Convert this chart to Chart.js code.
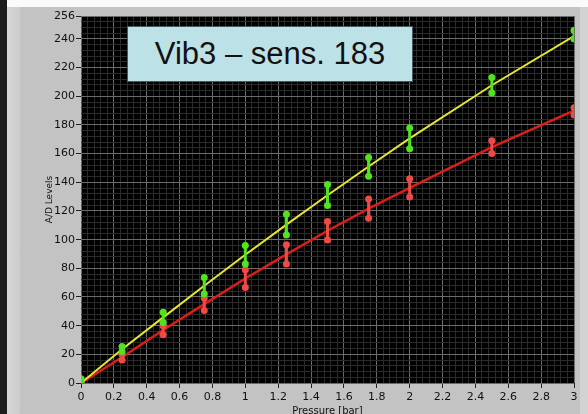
<!DOCTYPE html>
<html>
<head>
<meta charset="utf-8">
<script src="https://cdn.jsdelivr.net/npm/chart.js@4.4.1/dist/chart.umd.min.js"></script>
<style>
  html, body { margin: 0; padding: 0; }
  body { width: 588px; height: 414px; overflow: hidden; position: relative; background: #c3c3c3; }
  .strip { position: absolute; }
  #darkLeft { left: 0; top: 0; width: 7px; height: 414px; background: #1c1c1c; }
  #lightLeft { left: 7px; top: 0; width: 13px; height: 414px; background: linear-gradient(to right, #d6d6d6, #cdcdcd); }
  #topEdge { left: 7px; top: 0; width: 581px; height: 7px; background: #fafafa; }
  #rightEdge { left: 580px; top: 7px; width: 8px; height: 407px; background: #d2d2d2; }
  #plot { position: absolute; left: 0; top: 0; }
  #label {
    position: absolute; left: 127px; top: 26px; width: 284px; height: 54px;
    border: 1px solid #4a5a5c; background: #bce2e7;
    font: 31px "Liberation Sans", Arial, sans-serif; color: #111;
    display: flex; align-items: center; justify-content: center;
  }
</style>
</head>
<body>
<div class="strip" id="darkLeft"></div>
<div class="strip" id="lightLeft"></div>
<div class="strip" id="topEdge"></div>
<div class="strip" id="rightEdge"></div>
<canvas id="plot" width="588" height="420"></canvas>
<div id="label">Vib3 – sens. 183</div>
<script>
// readings per pressure step
const pressure = [0, 0.25, 0.5, 0.75, 1, 1.25, 1.5, 1.75, 2, 2.5, 3];
const greenLow = [0, 21.9, 42.2, 62.0, 83.0, 103.2, 123.8, 144.3, 163.4, 202.3, 240];
const greenHigh = [3, 25.4, 49.4, 73.6, 96.0, 117.7, 138.5, 157.3, 177.8, 213.1, 246];
const redLow = [0, 16.1, 33.6, 50.6, 66.7, 83.0, 99.8, 114.9, 129.8, 160.1, 187];
const redHigh = [0, 20, 40, 59.2, 79.0, 96.5, 112.6, 128.4, 142.4, 169.0, 192];
const yellowFit = [0, 23.6, 45.8, 67.8, 89.5, 110.5, 131, 151, 170.6, 207.7, 242];
const redFit = [0, 18, 37, 55, 72.9, 89.7, 106.2, 121.6, 136.1, 164.5, 190];

const xMajor = [0, 0.2, 0.4, 0.6, 0.8, 1, 1.2, 1.4, 1.6, 1.8, 2, 2.2, 2.4, 2.6, 2.8, 3];
const xLabels = ["0", "0.2", "0.4", "0.6", "0.8", "1", "1.2", "1.4", "1.6", "1.8", "2", "2.2", "2.4", "2.6", "2.8", "3"];
const yMajor = [0, 20, 40, 60, 80, 100, 120, 140, 160, 180, 200, 220, 240, 256];
const yLabels = ["0", "20", "40", "60", "80", "100", "120", "140", "160", "180", "200", "220", "240", "256"];

const majorIndex = (list, v) => list.findIndex((m) => Math.abs(m - v) < 1e-6);

// minor grid every step, plus the major ones
function gridTicks(step, max, major) {
  const out = [];
  for (let i = 0; i * step <= max + 1e-9; i++) out.push(+(i * step).toFixed(4));
  major.forEach((v) => { if (majorIndex(out, v) < 0) out.push(v); });
  return out.sort((a, b) => a - b).map((v) => ({ value: v }));
}

function rangeBars(low, high) {
  const pts = [];
  pressure.forEach((p, i) => {
    pts.push({ x: p, y: low[i] }, { x: p, y: high[i] }, { x: p, y: null });
  });
  return pts;
}

const blackArea = {
  id: "blackArea",
  beforeDraw(chart) {
    const { ctx, chartArea: a } = chart;
    ctx.save();
    ctx.fillStyle = "#000";
    ctx.fillRect(a.left, a.top, a.right - a.left, a.bottom - a.top);
    ctx.restore();
  },
};

const tickFont = { family: "DejaVu Sans", size: 11 };

new Chart(document.getElementById("plot"), {
  type: "line",
  data: {
    datasets: [
      {
        data: rangeBars(greenLow, greenHigh),
        borderColor: "#4fe41f",
        backgroundColor: "#4fe41f",
        borderWidth: 3,
        pointRadius: 3.5,
        pointBorderWidth: 0,
        spanGaps: false,
        clip: 0,
        order: 0,
      },
      {
        data: rangeBars(redLow, redHigh),
        borderColor: "#f04a46",
        backgroundColor: "#f04a46",
        borderWidth: 3,
        pointRadius: 3.5,
        pointBorderWidth: 0,
        spanGaps: false,
        clip: 0,
        order: 1,
      },
      {
        data: pressure.map((p, i) => ({ x: p, y: yellowFit[i] })),
        borderColor: "#e6e632",
        borderWidth: 2,
        pointRadius: 0,
        clip: 0,
        order: 2,
      },
      {
        data: pressure.map((p, i) => ({ x: p, y: redFit[i] })),
        borderColor: "#dc1e1a",
        borderWidth: 2.5,
        pointRadius: 0,
        clip: 0,
        order: 3,
      },
    ],
  },
  options: {
    responsive: false,
    animation: false,
    layout: { padding: { top: 16, right: 14, left: 0, bottom: 0 } },
    plugins: { legend: { display: false }, tooltip: { enabled: false } },
    scales: {
      x: {
        type: "linear",
        min: 0,
        max: 3,
        afterBuildTicks: (scale) => { scale.ticks = gridTicks(0.04, 3, xMajor); },
        afterFit: (scale) => { scale.height = 37; },
        border: { display: false },
        grid: {
          color: (c) => (majorIndex(xMajor, c.tick.value) >= 0 ? "#6c6c6c" : "#2b2b2b"),
          tickColor: (c) => (majorIndex(xMajor, c.tick.value) >= 0 ? "#222" : "rgba(0,0,0,0)"),
          tickLength: 5,
        },
        ticks: {
          autoSkip: false,
          maxRotation: 0,
          padding: 3,
          color: "#111",
          font: tickFont,
          callback: (v) => { const i = majorIndex(xMajor, v); return i >= 0 ? xLabels[i] : ""; },
        },
        title: {
          display: true,
          text: "Pressure [bar]",
          color: "#111",
          font: { family: "DejaVu Sans", size: 10 },
          padding: { top: 0, bottom: 3 },
        },
      },
      y: {
        type: "linear",
        min: 0,
        max: 256,
        afterBuildTicks: (scale) => { scale.ticks = gridTicks(4, 256, yMajor); },
        afterFit: (scale) => { scale.width = 81; },
        border: { display: false },
        grid: {
          color: (c) => (majorIndex(yMajor, c.tick.value) >= 0 ? "#6c6c6c" : "#2b2b2b"),
          tickColor: (c) => (majorIndex(yMajor, c.tick.value) >= 0 ? "#222" : "rgba(0,0,0,0)"),
          tickLength: 5,
        },
        ticks: {
          autoSkip: false,
          padding: 1,
          color: "#111",
          font: tickFont,
          callback: (v) => { const i = majorIndex(yMajor, v); return i >= 0 ? yLabels[i] : ""; },
        },
        title: {
          display: true,
          text: "A/D Levels",
          color: "#111",
          font: { family: "DejaVu Sans", size: 9 },
          padding: { top: 44, bottom: 0 },
        },
      },
    },
  },
  plugins: [blackArea],
});
</script>
</body>
</html>
